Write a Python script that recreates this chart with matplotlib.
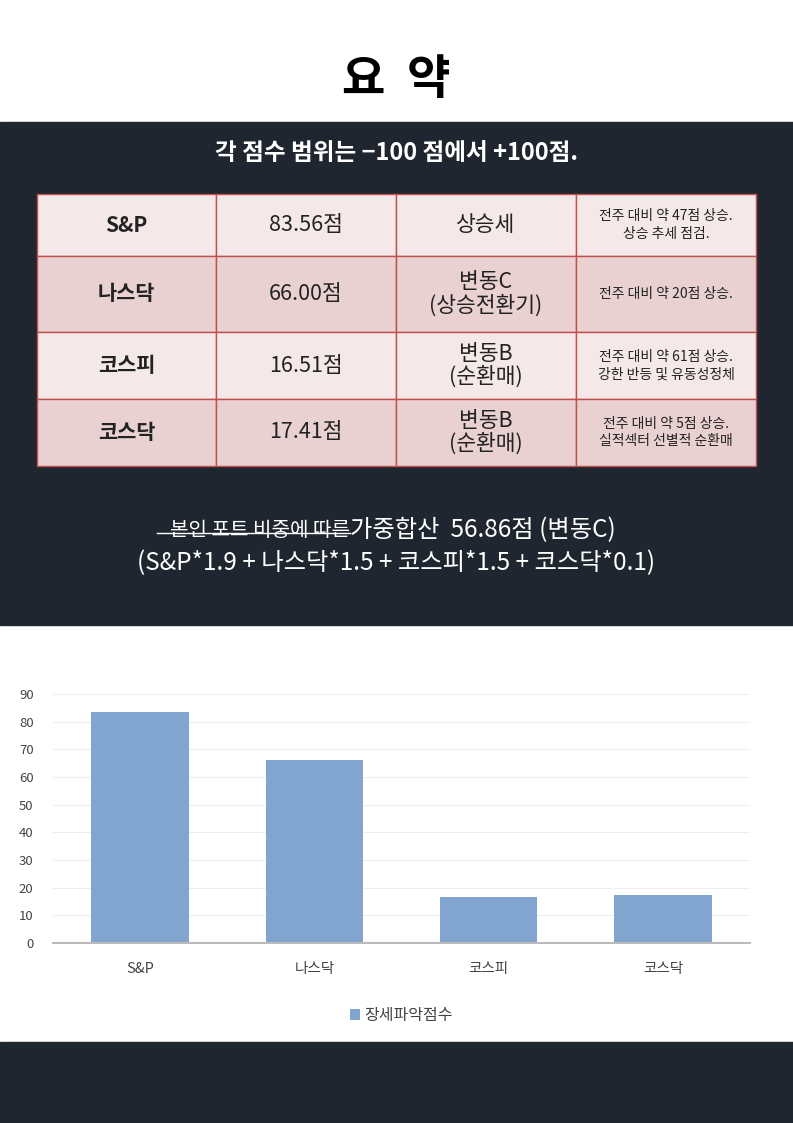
import matplotlib.pyplot as plt
from matplotlib.patches import Rectangle

plt.rcParams['font.family'] = ['Noto Sans CJK KR', 'DejaVu Sans']

categories = ['S&P', '나스닥', '코스피', '코스닥']
scores = [83.56, 66.00, 16.51, 17.41]
score_labels = ['83.56점', '66.00점', '16.51점', '17.41점']
trends = ['상승세', '변동C\n(상승전환기)', '변동B\n(순환매)', '변동B\n(순환매)']
notes = ['전주 대비 약 47점 상승.\n상승 추세 점검.', '전주 대비 약 20점 상승.',
         '전주 대비 약 61점 상승.\n강한 반등 및 유동성정체', '전주 대비 약 5점 상승.\n실적섹터 선별적 순환매']

W, H = 793, 1123
fig = plt.figure(figsize=(W / 100, H / 100), dpi=100)
bg = fig.add_axes([0, 0, 1, 1])
bg.set_xlim(0, W)
bg.set_ylim(H, 0)
bg.axis('off')

dark = '#1f2630'
bg.add_patch(Rectangle((0, 122), W, 503, color=dark))
bg.add_patch(Rectangle((0, 1042), W, 81, color=dark))

bg.text(W / 2, 80, '요  약', ha='center', va='center', fontsize=34, fontweight='bold', color='black')
bg.text(W / 2, 153, '각 점수 범위는 −100 점에서 +100점.', ha='center', va='center',
        fontsize=17, fontweight='bold', color='white')

# table
cols = [37, 216, 396, 576, 756]
rows = [194, 256, 332, 399, 466]
for i in range(4):
    fc = '#f5e8e8' if i % 2 == 0 else '#e9d0d1'
    y0, y1 = rows[i], rows[i + 1]
    cells = [categories[i], score_labels[i], trends[i], notes[i]]
    for j in range(4):
        bg.add_patch(Rectangle((cols[j], y0), cols[j + 1] - cols[j], y1 - y0,
                               facecolor=fc, edgecolor='#c0504d', linewidth=1))
        cx, cy = (cols[j] + cols[j + 1]) / 2, (y0 + y1) / 2
        if j == 0:
            bg.text(cx, cy, cells[j], ha='center', va='center', fontsize=15, fontweight='bold', color='#222222')
        elif j == 3:
            bg.text(cx, cy, cells[j], ha='center', va='center', fontsize=10, color='#222222', linespacing=1.3)
        else:
            bg.text(cx, cy, cells[j], ha='center', va='center', fontsize=15.5, color='#222222', linespacing=1.05)

# weighted sum text (first part struck through)
bg.text(350, 530, '본인 포트 비중에 따른', ha='right', va='center', fontsize=14.5, color='white')
bg.plot([157, 350], [533, 533], color='white', linewidth=1)
bg.text(350, 530, '가중합산  56.86점 (변동C)', ha='left', va='center', fontsize=17.5, color='white')
bg.text(W / 2, 563, '(S&P*1.9 + 나스닥*1.5 + 코스피*1.5 + 코스닥*0.1)', ha='center', va='center',
        fontsize=17.5, color='white')

# bar chart
ax = fig.add_axes([53 / W, 1 - 943 / H, (750 - 53) / W, (943 - 694) / H])
x = range(len(categories))
ax.bar(x, scores, width=0.56, color='#82a5d0', label='장세파악점수')
ax.set_ylim(0, 90)
ax.set_xlim(-0.5, 3.5)
ax.set_yticks(range(0, 91, 10))
ax.set_xticks(list(x))
ax.set_xticklabels(categories, fontsize=10.5, color='#444444')
ax.tick_params(axis='x', length=0, pad=14)
ax.tick_params(axis='y', length=0, labelsize=9.5, labelcolor='#444444', pad=14)
ax.yaxis.grid(True, color='#eeeeee', linewidth=0.8)
ax.set_axisbelow(True)
for s in ['top', 'right', 'left']:
    ax.spines[s].set_visible(False)
ax.spines['bottom'].set_color('#bbbbbb')
ax.spines['bottom'].set_linewidth(1.5)
ax.legend(loc='upper center', bbox_to_anchor=(0.5, -0.2), frameon=False, fontsize=11.5,
          handlelength=0.6, handleheight=0.6, handletextpad=0.3, labelcolor='#444444')

fig.savefig('out.png', dpi=100, facecolor='white')
